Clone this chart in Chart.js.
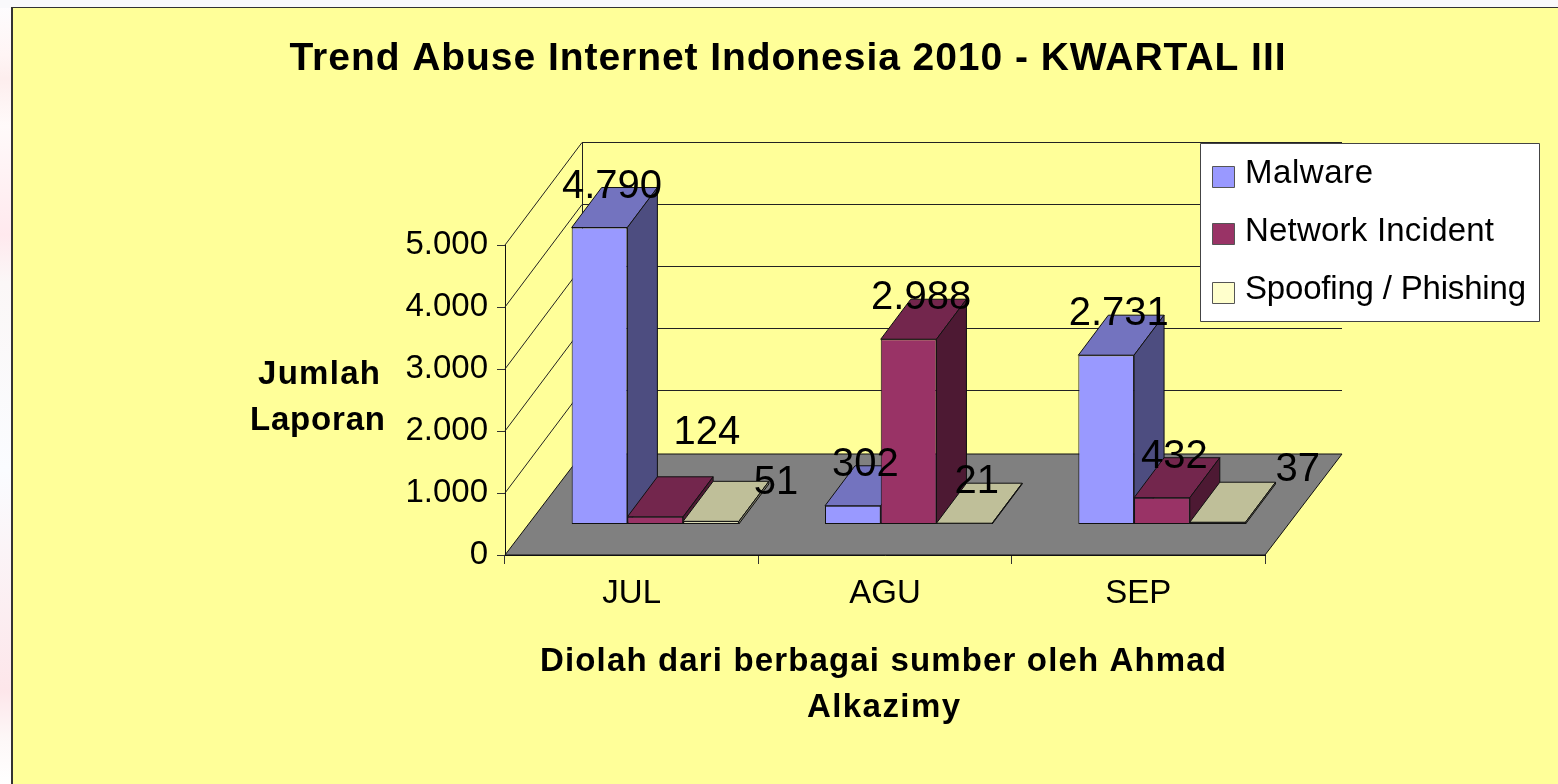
<!DOCTYPE html>
<html>
<head>
<meta charset="utf-8">
<title>Trend Abuse Internet Indonesia 2010</title>
<script src="https://cdn.jsdelivr.net/npm/chart.js@4"></script>
<style>
  html, body { margin: 0; padding: 0; background: #fff; overflow: hidden; }
  canvas { display: block; }
</style>
</head>
<body>
<canvas id="abuseChart" width="1558" height="784"></canvas>
<script>
// Data
const CATEGORIES = ["JUL", "AGU", "SEP"];
const MALWARE = [4790, 302, 2731];
const NETWORK = [124, 2988, 432];
const SPOOFING = [51, 21, 37];
const Y_TICK_STEP = 1000;
const Y_MAX = 5000;

const TITLE = "Trend Abuse Internet Indonesia 2010 - KWARTAL III";
const Y_TITLE = ["Jumlah", "Laporan"];
const X_TITLE = ["Diolah dari berbagai sumber oleh Ahmad", "Alkazimy"];

// 3d look
const FONT = '"Liberation Sans", Arial, sans-serif';
const FLOOR = { dx: 77, dy: -101 };   // depth of whole box
const WALL_DY = -103;                 // back wall lines sit a bit higher than the floor edge
const SHIFT = { dx: 23.6, dy: -30.5 };  // bars stand this far back on the floor
const BAR = { dx: 30, dy: -40 };      // depth of a single bar

const shades = [
  { front: "#9999ff", top: "#7373bf", side: "#4d4d80" },
  { front: "#993366", top: "#73264d", side: "#4d1933" },
  { front: "#ffffcc", top: "#bfbf99", side: "#808066" }
];

// labels were dragged around by hand in the original
const LABEL_OFFSET = { dx: 12.5, dy: -41 };
const MOVED_LABELS = {
  "1-0": { dx: 51.5, dy: -84 },
  "2-0": { dx: 65, dy: -38 },
  "2-2": { dx: 80, dy: -52 }
};

function crisp(v) { return Math.round(v) + 0.5; }

function poly(ctx, pts, fill, stroke) {
  ctx.beginPath();
  pts.forEach((p, i) => i ? ctx.lineTo(p[0], p[1]) : ctx.moveTo(p[0], p[1]));
  ctx.closePath();
  if (fill) { ctx.fillStyle = fill; ctx.fill(); }
  if (stroke) { ctx.strokeStyle = stroke; ctx.lineWidth = 1; ctx.stroke(); }
}

// text squeezed or stretched to the width it has in the original
function fitText(ctx, text, cx, cy, font, width) {
  ctx.save();
  ctx.font = font;
  ctx.fillStyle = "#000";
  ctx.textAlign = "left";
  ctx.textBaseline = "middle";
  ctx.letterSpacing = "0px";
  const w = ctx.measureText(text).width;
  const spacing = (width - w) / (text.length - 1);
  ctx.letterSpacing = spacing.toFixed(3) + "px";
  ctx.fillText(text, cx - width / 2, cy);
  ctx.restore();
}

const backdrop = {
  id: "backdrop",
  beforeDraw(chart) {
    const ctx = chart.ctx;
    ctx.save();
    ctx.fillStyle = "#f9f9fb";
    ctx.fillRect(0, 0, chart.width, chart.height);
    // faint slide background showing on the left
    const g = ctx.createLinearGradient(0, 0, 0, chart.height);
    [[0, "#fdfdff"], [0.07, "#fff5f5"], [0.1, "#fdeeee"], [0.16, "#fffafa"], [0.3, "#ffe9ee"],
     [0.36, "#fbf7f7"], [0.6, "#fafcff"], [0.88, "#fde6ea"], [0.94, "#fdf7f7"], [1, "#ffffff"]]
      .forEach(s => g.addColorStop(s[0], s[1]));
    ctx.fillStyle = g;
    ctx.fillRect(0, 8, 12, chart.height - 8);
    // chart frame
    ctx.fillStyle = "#ffff99";
    ctx.fillRect(12, 8, chart.width - 12, chart.height - 8);
    ctx.fillStyle = "#333";
    ctx.fillRect(11, 7, chart.width - 11, 1);
    ctx.fillRect(11, 7, 2, chart.height - 7);
    ctx.restore();
  }
};

const box3d = {
  id: "box3d",
  beforeDatasetsDraw(chart) {
    const ctx = chart.ctx;
    const { x, y } = chart.scales;
    const left = x.left, right = x.right;
    const zero = y.getPixelForValue(0);
    ctx.save();

    // side wall + back wall gridlines
    ctx.strokeStyle = "#222";
    ctx.lineWidth = 1;
    y.ticks.forEach(t => {
      const py = y.getPixelForValue(t.value);
      if (t.value === 0) return;
      ctx.beginPath();
      ctx.moveTo(left, py);
      ctx.lineTo(left + FLOOR.dx, crisp(py + WALL_DY));
      ctx.lineTo(right + FLOOR.dx, crisp(py + WALL_DY));
      ctx.stroke();
    });
    ctx.beginPath();
    ctx.moveTo(crisp(left + FLOOR.dx), y.top + WALL_DY);
    ctx.lineTo(crisp(left + FLOOR.dx), zero + FLOOR.dy);
    ctx.stroke();

    // floor
    poly(ctx, [
      [left, zero], [right, zero],
      [right + FLOOR.dx, zero + FLOOR.dy], [left + FLOOR.dx, zero + FLOOR.dy]
    ], "#808080", "#111");
    ctx.restore();

    // bars sit further back on the floor. Chart.js paints the last dataset
    // first, we need left to right so that each bar overlaps its neighbour's side
    ctx.save();
    ctx.translate(SHIFT.dx, SHIFT.dy);
    chart.data.datasets.forEach((ds, d) => {
      const meta = chart.getDatasetMeta(d);
      const shade = shades[d];
      meta.data.forEach(bar => {
        const { x, y, base, width } = bar.getProps(["x", "y", "base", "width"], true);
        const l = x - width / 2, r = x + width / 2;
        poly(ctx, [
          [l, y], [r, y], [r + BAR.dx, y + BAR.dy], [l + BAR.dx, y + BAR.dy]
        ], shade.top, "#111");
        poly(ctx, [
          [r, y], [r + BAR.dx, y + BAR.dy], [r + BAR.dx, base + BAR.dy], [r, base]
        ], shade.side, "#111");
      });
      meta.controller.draw();
    });
    ctx.restore();
  },
  // already painted above
  beforeDatasetDraw() { return false; },
  afterDatasetsDraw(chart) {
    const ctx = chart.ctx;

    // value labels
    ctx.save();
    ctx.font = "40px " + FONT;
    ctx.fillStyle = "#000";
    ctx.textAlign = "center";
    ctx.textBaseline = "middle";
    chart.data.datasets.forEach((ds, d) => {
      chart.getDatasetMeta(d).data.forEach((bar, i) => {
        const off = MOVED_LABELS[d + "-" + i] || LABEL_OFFSET;
        const text = ds.data[i].toLocaleString("de-DE");
        ctx.fillText(text, bar.x + SHIFT.dx + off.dx, bar.y + SHIFT.dy + off.dy);
      });
    });
    ctx.restore();
  },
  afterDraw(chart) {
    const ctx = chart.ctx;

    // titles
    fitText(ctx, TITLE, 787.5, 59, "bold 39px " + FONT, 996);
    fitText(ctx, Y_TITLE[0], 319, 375, "bold 33px " + FONT, 122);
    fitText(ctx, Y_TITLE[1], 317.5, 421, "bold 33px " + FONT, 135);
    fitText(ctx, X_TITLE[0], 883, 662, "bold 33px " + FONT, 686);
    fitText(ctx, X_TITLE[1], 883.5, 708, "bold 33px " + FONT, 153);

    // legend
    ctx.save();
    poly(ctx, [[1200.5, 143.5], [1539.5, 143.5], [1539.5, 321.5], [1200.5, 321.5]], "#fff", "#444");
    const swatchY = [166, 223, 282];
    const textY = [174, 232, 290];
    const textW = [128, 249, 281];
    chart.data.datasets.forEach((ds, d) => {
      poly(ctx, [
        [1212.5, swatchY[d] + 0.5], [1234.5, swatchY[d] + 0.5],
        [1234.5, swatchY[d] + 21.5], [1212.5, swatchY[d] + 21.5]
      ], shades[d].front, "#555");
      fitText(ctx, ds.label, 1245 + textW[d] / 2, textY[d], "33px " + FONT, textW[d]);
    });
    ctx.restore();
  }
};

const barOpts = { borderColor: "#111", borderWidth: 1, borderSkipped: false };

new Chart(document.getElementById("abuseChart"), {
  type: "bar",
  data: {
    labels: CATEGORIES,
    datasets: [
      { label: "Malware", data: MALWARE, backgroundColor: shades[0].front, ...barOpts },
      { label: "Network Incident", data: NETWORK, backgroundColor: shades[1].front, ...barOpts },
      { label: "Spoofing / Phishing", data: SPOOFING, backgroundColor: shades[2].front, ...barOpts }
    ]
  },
  options: {
    responsive: false,
    animation: false,
    events: [],
    layout: { autoPadding: false, padding: { left: 405, right: 293, top: 245, bottom: 169 } },
    datasets: { bar: { categoryPercentage: 0.66, barPercentage: 1, clip: false } },
    plugins: { legend: { display: false }, title: { display: false }, tooltip: { enabled: false } },
    scales: {
      x: {
        afterFit(s) { s.height = 60; },
        border: { color: "#111" },
        grid: { offset: true, drawOnChartArea: false, tickLength: 9, color: "#333" },
        ticks: { color: "#000", padding: 10, maxRotation: 0, font: { family: FONT, size: 33 } }
      },
      y: {
        min: 0,
        max: Y_MAX,
        afterFit(s) { s.width = 100; },
        border: { color: "#111" },
        grid: { drawOnChartArea: false, tickLength: 8, color: "#333" },
        ticks: {
          stepSize: Y_TICK_STEP,
          color: "#000",
          padding: 9,
          font: { family: FONT, size: 33 },
          callback: v => v.toLocaleString("de-DE")
        }
      }
    }
  },
  plugins: [backdrop, box3d]
});
</script>
</body>
</html>
